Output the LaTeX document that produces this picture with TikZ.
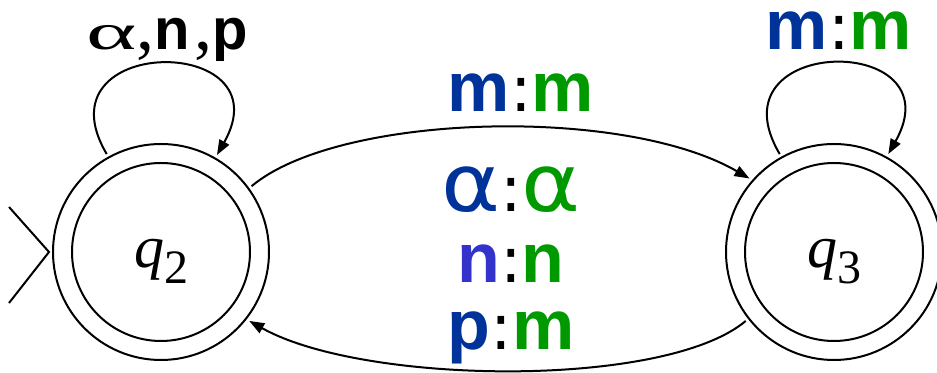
\documentclass[tikz,border=0pt]{standalone}
\usepackage{fontspec}
\usepackage{graphicx}
\setmainfont{Liberation Serif}
\newfontfamily\labsans{Liberation Sans}
\newfontfamily\greeksans{DejaVu Sans}
\usetikzlibrary{arrows.meta}

\definecolor{inblue}{HTML}{003399}
\definecolor{nblue}{HTML}{3333CC}
\definecolor{outgreen}{HTML}{009900}

% symbol pieces of the transition labels
\newcommand{\bsym}[2]{\textcolor{#1}{\labsans\bfseries #2}}
\newcommand{\gsym}[2]{\textcolor{#1}{\scalebox{1.12}[1]{\greeksans\fontsize{40}{40}\selectfont #2}}}
\newcommand{\sep}{{\greeksans\fontsize{32}{32}\selectfont :}}
\newcommand{\statename}[1]{\fontsize{30}{30}\selectfont\itshape q\raisebox{-8pt}{\fontsize{24}{24}\selectfont\upshape #1}}
\newcommand{\loopsym}[1]{{\labsans\bfseries\fontsize{29}{29}\selectfont #1}}
\newcommand{\loopcomma}{{\fontsize{36}{36}\selectfont,}}

\begin{document}
\begin{tikzpicture}[x=0.5pt, y=0.5pt,
  line width=1pt,
  state/.style={circle, draw, minimum size=108pt, inner sep=0pt, outer sep=2pt,
    text height=20pt, text depth=4pt},
  trans/.style={-{Triangle[length=7.5pt,width=5.5pt]}},
  trlabel/.style={inner sep=0pt, anchor=base,
    font=\fontsize{35}{35}\selectfont\labsans}
]
\useasboundingbox (0,0) rectangle (937,373);

% states (accepting: double circle)
\node[state] (q2) at (161,121) {\statename{2}};
\node[state] (q3) at (834,121) {\statename{3}};
\draw (q2.center) circle (44.5pt);
\draw (q3.center) circle (44.5pt);

% start marker
\coordinate (init1) at (9,166);
\coordinate (init2) at (9,70);
\draw (init1) -- (q2.west) -- (init2);

% self loops
\draw[trans] (q2.119) .. controls +(-71,120) and +(69,122) .. (q2.60);
\draw[trans] (q3.119) .. controls +(-71,120) and +(69,122) .. (q3.61);

% transitions between the states
\draw[trans] (q2.36) .. controls +(87,73) and +(-126,73) .. (q3.139);
\draw[trans] (q3.218) .. controls +(-81,-68) and +(114,-64) .. (q2.322);

% labels
\node[anchor=base, inner sep=0pt] (l22) at (167,323)
  {\scalebox{1.6}[0.85]{\fontsize{30}{30}\selectfont α}\loopcomma\loopsym{n}\kern2pt\loopcomma\loopsym{p}};
\node[trlabel] (l33) at (839,323) {\bsym{inblue}{m}\sep\bsym{outgreen}{m}};
\node[trlabel] (l23) at (521,261) {\bsym{inblue}{m}\sep\bsym{outgreen}{m}};
\node[trlabel] (l32a) at (511,161) {\gsym{inblue}{α}\sep\gsym{outgreen}{α}};
\node[trlabel] (l32b) at (511,90) {\bsym{nblue}{n}\sep\bsym{outgreen}{n}};
\node[trlabel] (l32c) at (511,23) {\bsym{inblue}{p}\sep\bsym{outgreen}{m}};
\end{tikzpicture}
\end{document}
